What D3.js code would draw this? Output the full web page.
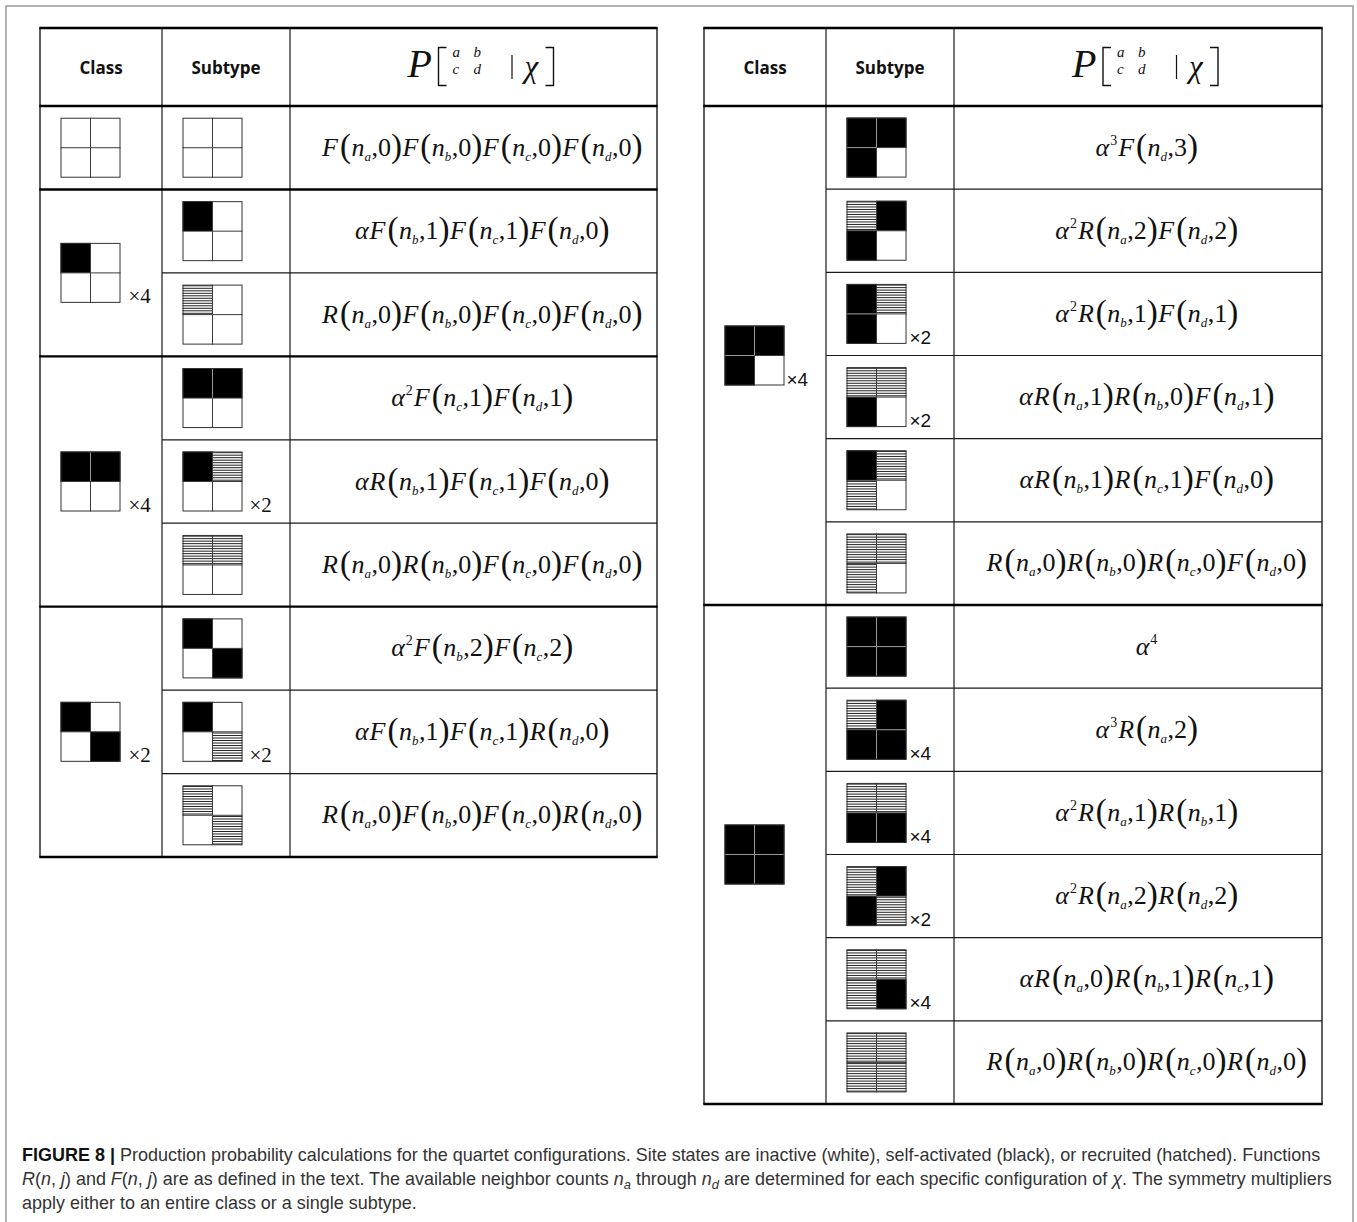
<!DOCTYPE html>
<html>
<head>
<meta charset="utf-8">
<script src="https://cdn.jsdelivr.net/npm/d3@7"></script>
<style>
html,body{margin:0;padding:0;background:#fff;}
svg{display:block;}
</style>
</head>
<body>
<svg id="chart" width="1357" height="1222"></svg>
<script>
// ---------- DATA ----------
const headerLabels = ["Class", "Subtype"];

// site states per quartet [a b / c d]: w = inactive, k = self-activated, h = recruited
const leftClassIcons = ["wwww", "kwww", "kkww", "kwwk"];
const leftClassMult  = ["", "×4", "×4", "×2"];
const leftSubClass   = [0, 1, 1, 2, 2, 2, 3, 3, 3];
const leftSubIcons   = ["wwww", "kwww", "hwww", "kkww", "khww", "hhww", "kwwk", "kwwh", "hwwh"];
const leftSubMult    = ["", "", "", "", "×2", "", "", "×2", ""];
const leftFormulas   = [
  "F(a,0)F(b,0)F(c,0)F(d,0)",
  "α^1F(b,1)F(c,1)F(d,0)",
  "R(a,0)F(b,0)F(c,0)F(d,0)",
  "α^2F(c,1)F(d,1)",
  "α^1R(b,1)F(c,1)F(d,0)",
  "R(a,0)R(b,0)F(c,0)F(d,0)",
  "α^2F(b,2)F(c,2)",
  "α^1F(b,1)F(c,1)R(d,0)",
  "R(a,0)F(b,0)F(c,0)R(d,0)"
];

const rightClassIcons = ["kkkw", "kkkk"];
const rightClassMult  = ["×4", ""];
const rightSubClass   = [0, 0, 0, 0, 0, 0, 1, 1, 1, 1, 1, 1];
const rightSubIcons   = ["kkkw", "hkkw", "khkw", "hhkw", "khhw", "hhhw",
                         "kkkk", "hkkk", "hhkk", "hkkh", "hhhk", "hhhh"];
const rightSubMult    = ["", "", "×2", "×2", "", "", "", "×4", "×4", "×2", "×4", ""];
const rightFormulas   = [
  "α^3F(d,3)",
  "α^2R(a,2)F(d,2)",
  "α^2R(b,1)F(d,1)",
  "α^1R(a,1)R(b,0)F(d,1)",
  "α^1R(b,1)R(c,1)F(d,0)",
  "R(a,0)R(b,0)R(c,0)F(d,0)",
  "α^4",
  "α^3R(a,2)",
  "α^2R(a,1)R(b,1)",
  "α^2R(a,2)R(d,2)",
  "α^1R(a,0)R(b,1)R(c,1)",
  "R(a,0)R(b,0)R(c,0)R(d,0)"
];

const headerMatrix = [["a", "b"], ["c", "d"]];

const captionLine1 = [
  {t: "FIGURE 8 | ", b: true},
  {t: "Production probability calculations for the quartet configurations. Site states are inactive (white), self-activated (black), or recruited (hatched). Functions"}
];
const captionLine2 = [
  {t: "R", i: true}, {t: "("}, {t: "n", i: true}, {t: ", "}, {t: "j", i: true}, {t: ") and "},
  {t: "F", i: true}, {t: "("}, {t: "n", i: true}, {t: ", "}, {t: "j", i: true},
  {t: ") are as defined in the text. The available neighbor counts "},
  {t: "n", i: true}, {t: "a", i: true, sub: true}, {t: " through "},
  {t: "n", i: true}, {t: "d", i: true, sub: true},
  {t: " are determined for each specific configuration of "}, {t: "χ", i: true},
  {t: ". The symmetry multipliers"}
];
const captionLine3 = [{t: "apply either to an entire class or a single subtype."}];

// ---------- LAYOUT ----------
const SERIF = "'Liberation Serif', 'Times New Roman', serif";
const SANS = "'Liberation Sans', Arial, sans-serif";
const svg = d3.select("#chart");

// outer frame
svg.append("rect").attr("x", 6).attr("y", 6).attr("width", 1347).attr("height", 1230)
  .attr("fill", "none").attr("stroke", "#8a8a8a").attr("stroke-width", 1.3);

const tables = [
  {cols: [40, 162, 290, 657], bottom: 857, nRows: 9,
   classIcons: leftClassIcons, classMult: leftClassMult, subClass: leftSubClass,
   subIcons: leftSubIcons, subMult: leftSubMult, formulas: leftFormulas,
   classMultGap: 8, subMultGap: 7, multFont: SERIF, multSize: 21},
  {cols: [704, 826, 954, 1322], bottom: 1104, nRows: 12,
   classIcons: rightClassIcons, classMult: rightClassMult, subClass: rightSubClass,
   subIcons: rightSubIcons, subMult: rightSubMult, formulas: rightFormulas,
   classMultGap: 2, subMultGap: 3, multFont: SANS, multSize: 19}
];
const TOP = 28, HEAD = 106, ICON = 60;

function drawIcon(g, x0, y0, code) {
  const c = ICON / 2;
  const pos = [[0, 0], [c, 0], [0, c], [c, c]];
  code.split("").forEach((s, i) => {
    const x = x0 + pos[i][0], y = y0 + pos[i][1];
    g.append("rect").attr("x", x).attr("y", y).attr("width", c).attr("height", c)
      .attr("fill", s === "k" ? "#000" : "#fff");
    if (s === "h") {
      d3.range(y + 1.2, y + c, 2.5).forEach(yy => {
        g.append("line").attr("x1", x).attr("x2", x + c).attr("y1", yy).attr("y2", yy)
          .attr("stroke", "#222").attr("stroke-width", 1);
      });
    }
  });
  const blk = i => code[i] === "k";
  const segCol = (i, j) => (blk(i) && blk(j)) ? "#9a9a9a" : "#3a3a3a";
  const segs = [
    [x0 + c, y0, x0 + c, y0 + c, segCol(0, 1)],
    [x0 + c, y0 + c, x0 + c, y0 + ICON, segCol(2, 3)],
    [x0, y0 + c, x0 + c, y0 + c, segCol(0, 2)],
    [x0 + c, y0 + c, x0 + ICON, y0 + c, segCol(1, 3)]
  ];
  segs.forEach(s => g.append("line").attr("x1", s[0]).attr("y1", s[1]).attr("x2", s[2]).attr("y2", s[3])
    .attr("stroke", s[4]).attr("stroke-width", 1));
  g.append("rect").attr("x", x0 + 0.5).attr("y", y0 + 0.5).attr("width", ICON - 1).attr("height", ICON - 1)
    .attr("fill", "none").attr("stroke", "#333").attr("stroke-width", 1);
}

function layoutPieces(g, pieces, cx, baseline) {
  const grp = g.append("g");
  let x = 0;
  pieces.forEach(p => {
    x += (p.pre || 0);
    const el = grp.append("text").attr("x", x).attr("y", baseline + (p.dy || 0))
      .attr("font-family", p.font || SERIF).attr("font-size", p.size)
      .attr("font-style", p.italic ? "italic" : "normal").attr("fill", "#111").text(p.t);
    const w = el.node().getComputedTextLength();
    x += w + (p.post || 0);
  });
  grp.attr("transform", `translate(${cx - x / 2},0)`);
}

function formulaPieces(str) {
  const pieces = [];
  const am = str.match(/^α\^(\d)/);
  if (am) {
    pieces.push({t: "α", size: 26, italic: true, post: 1});
    if (am[1] !== "1") pieces.push({t: am[1], size: 14, dy: -11, post: 1});
  }
  const re = /([FR])\(([abcd]),(\d)\)/g;
  let m;
  while ((m = re.exec(str)) !== null) {
    pieces.push({t: m[1], size: 26, italic: true, post: 2});
    pieces.push({t: "(", size: 33, dy: 1, post: 0.5});
    pieces.push({t: "n", size: 26, italic: true});
    pieces.push({t: m[2], size: 13, italic: true, dy: 5, post: 0.5});
    pieces.push({t: ",", size: 26});
    pieces.push({t: m[3], size: 26});
    pieces.push({t: ")", size: 33, dy: 1, post: 0.5});
  }
  return pieces;
}

function drawHeaderFormula(g, x0) {
  // offsets measured from the start of "P"
  const txt = (x, y, t, size, italic) => g.append("text").attr("x", x0 + x).attr("y", y)
    .attr("font-family", SERIF).attr("font-size", size).attr("font-style", italic ? "italic" : "normal")
    .attr("fill", "#111").text(t);
  txt(0, 77, "P", 40, true);
  const bracket = (x, dir) => g.append("path")
    .attr("d", `M${x0 + x + 8 * dir},47.5 H${x0 + x} V85.5 H${x0 + x + 8 * dir}`)
    .attr("fill", "none").attr("stroke", "#111").attr("stroke-width", 1.4);
  bracket(31, 1);
  // 2x2 matrix a b / c d
  [[0, 0, 45, 57], [0, 1, 66, 57], [1, 0, 45, 74], [1, 1, 66, 74]].forEach(p => {
    txt(p[2], p[3], headerMatrix[p[0]][p[1]], 15, true);
  });
  g.append("line").attr("x1", x0 + 104.5).attr("x2", x0 + 104.5).attr("y1", 55).attr("y2", 79)
    .attr("stroke", "#111").attr("stroke-width", 1.2);
  txt(117, 77, "χ", 31, true);
  bracket(146, -1);
}

tables.forEach(T => {
  const g = svg.append("g");
  const [x0, x1, x2, x3] = T.cols;
  const y = d3.scaleLinear().domain([0, T.nRows]).range([HEAD, T.bottom]);

  // header
  [[x0, x1], [x1, x2]].forEach((c, k) => {
    g.append("text").attr("x", (c[0] + c[1]) / 2).attr("y", 74).attr("text-anchor", "middle")
      .attr("font-family", "'Open Sans', sans-serif").attr("font-weight", "bold").attr("font-size", 17)
      .attr("fill", "#111").text(headerLabels[k]);
  });
  drawHeaderFormula(g, (x2 + x3) / 2 + 8 - 74);

  // icons & formulas
  const nClasses = T.classIcons.length;
  d3.range(nClasses).forEach(ci => {
    const rows = T.subClass.map((c, i) => c === ci ? i : -1).filter(i => i >= 0);
    const r0 = d3.min(rows), r1 = d3.max(rows) + 1;
    const cy = (y(r0) + y(r1)) / 2;
    const ix = x0 + 20.5;
    drawIcon(g, ix, cy - ICON / 2, T.classIcons[ci]);
    if (T.classMult[ci]) {
      g.append("text").attr("x", ix + ICON + T.classMultGap).attr("y", cy + ICON / 2)
        .attr("font-family", T.multFont).attr("font-size", T.multSize).attr("fill", "#111").text(T.classMult[ci]);
    }
  });
  T.subIcons.forEach((code, i) => {
    const cy = (y(i) + y(i + 1)) / 2;
    const ix = x1 + 20.5;
    drawIcon(g, ix, cy - ICON / 2, code);
    if (T.subMult[i]) {
      g.append("text").attr("x", ix + ICON + T.subMultGap).attr("y", cy + ICON / 2)
        .attr("font-family", T.multFont).attr("font-size", T.multSize).attr("fill", "#111").text(T.subMult[i]);
    }
    layoutPieces(g, formulaPieces(T.formulas[i]), (x2 + x3) / 2 + 9, cy + 8);
  });

  // grid lines
  const thin = (xa, ya, xb, yb, w) => g.append("line").attr("x1", xa).attr("y1", ya).attr("x2", xb).attr("y2", yb)
    .attr("stroke", "#1a1a1a").attr("stroke-width", w);
  [x0, x1, x2, x3].forEach((xx, k) => thin(xx, TOP, xx, T.bottom, (k === 0 || k === 3) ? 1.4 : 1.2));
  T.subClass.forEach((c, i) => {
    if (i > 0 && T.subClass[i - 1] === c) thin(x1, y(i), x3, y(i), 1.2);
  });
  const thickYs = [TOP, HEAD, T.bottom];
  T.subClass.forEach((c, i) => { if (i > 0 && T.subClass[i - 1] !== c) thickYs.push(y(i)); });
  thickYs.forEach(yy => g.append("line").attr("x1", x0 - 0.7).attr("x2", x3 + 0.7).attr("y1", yy).attr("y2", yy)
    .attr("stroke", "#000").attr("stroke-width", 2.4));
});

// ---------- CAPTION ----------
function captionLine(segs, baseline, target) {
  const t = svg.append("text").attr("font-family", SANS).attr("font-size", 18).attr("fill", "#333")
    .attr("x", 0).attr("y", 0);
  let inSub = false;
  segs.forEach(s => {
    const ts = t.append("tspan").text(s.t);
    if (s.b) ts.attr("font-weight", "bold").attr("fill", "#111");
    if (s.i) ts.attr("font-style", "italic");
    if (s.sub) { ts.attr("font-size", 13).attr("dy", 4); inSub = true; }
    else if (inSub) { ts.attr("dy", -4); inSub = false; }
  });
  const w = t.node().getComputedTextLength();
  return {t, w, baseline, target};
}
const c1 = captionLine(captionLine1, 1161, 1299);
const c2 = captionLine(captionLine2, 1185, 1311);
const c3 = captionLine(captionLine3, 1209, null);
const s1 = c1.target / c1.w;
[c1, c2, c3].forEach(c => {
  const s = c.target ? c.target / c.w : s1;
  c.t.attr("transform", `translate(22,${c.baseline}) scale(${s},1)`);
});
</script>
</body>
</html>
